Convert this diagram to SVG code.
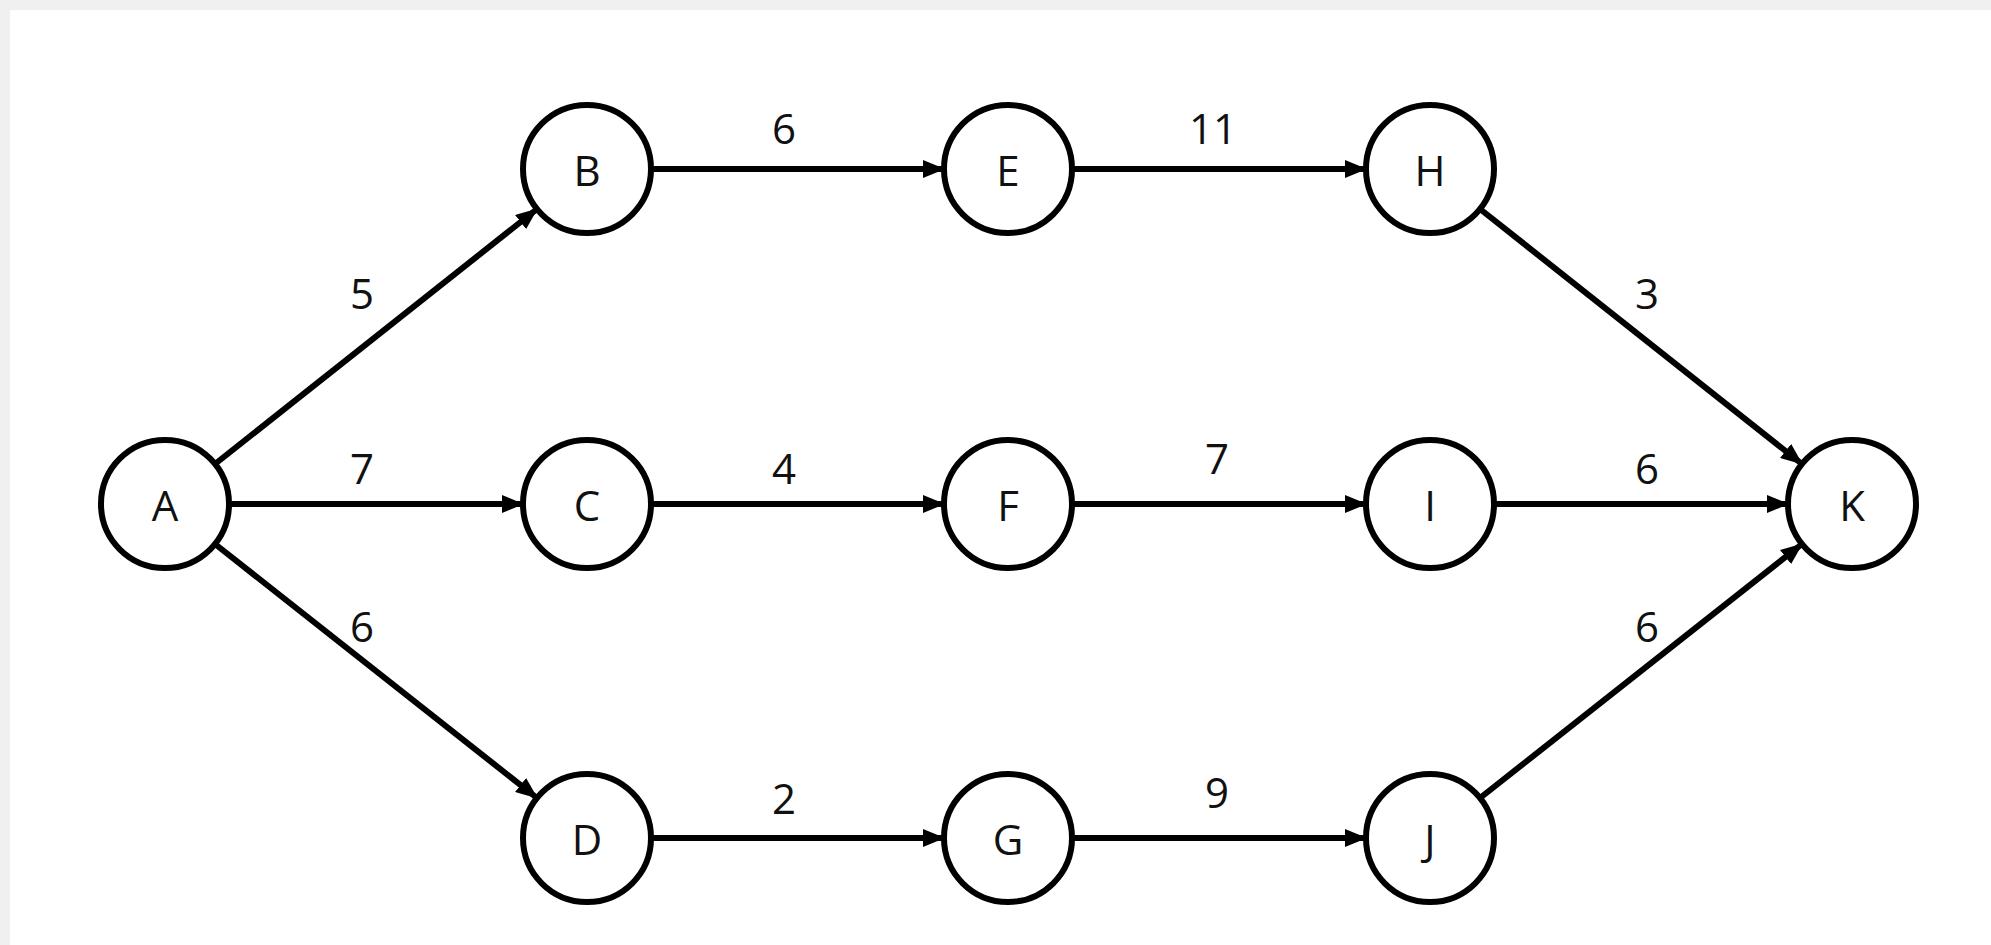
<svg xmlns="http://www.w3.org/2000/svg" width="1991" height="945" viewBox="0 0 1991 945">
<style>
.n circle{fill:#fff;stroke:#000;stroke-width:6}
text{font-family:"Open Sans","Liberation Sans",sans-serif;font-size:42px;fill:#111;text-anchor:middle;dominant-baseline:central}
.e line{stroke:#000;stroke-width:6}
</style>
<defs><marker id="ar" markerUnits="userSpaceOnUse" markerWidth="22" markerHeight="18" refX="21" refY="9" orient="auto"><path d="M0,0 L22,9 L0,18 z" fill="#000"/></marker></defs>
<rect width="1991" height="945" fill="#f0f0f0"/>
<rect x="10" y="10" width="1981" height="935" fill="#fff"/>
<g class="e" marker-end="url(#ar)">
<line x1="215" y1="464" x2="537" y2="209" marker-end="url(#ar)"/>
<line x1="229" y1="504" x2="523" y2="504" marker-end="url(#ar)"/>
<line x1="215" y1="544" x2="537" y2="798" marker-end="url(#ar)"/>
<line x1="651" y1="169" x2="944" y2="169" marker-end="url(#ar)"/>
<line x1="1072" y1="169" x2="1366" y2="169" marker-end="url(#ar)"/>
<line x1="651" y1="504" x2="944" y2="504" marker-end="url(#ar)"/>
<line x1="1072" y1="504" x2="1366" y2="504" marker-end="url(#ar)"/>
<line x1="651" y1="838" x2="944" y2="838" marker-end="url(#ar)"/>
<line x1="1072" y1="838" x2="1366" y2="838" marker-end="url(#ar)"/>
<line x1="1480" y1="209" x2="1802" y2="464" marker-end="url(#ar)"/>
<line x1="1494" y1="504" x2="1788" y2="504" marker-end="url(#ar)"/>
<line x1="1480" y1="798" x2="1802" y2="544" marker-end="url(#ar)"/>
<text x="362" y="292">5</text><text x="362" y="467">7</text><text x="362" y="625">6</text>
<text x="784" y="127">6</text><text x="1213" y="127">11</text><text x="1647" y="292">3</text>
<text x="784" y="467">4</text><text x="1217" y="457">7</text><text x="1647" y="467">6</text>
<text x="784" y="797">2</text><text x="1217" y="791">9</text><text x="1647" y="625">6</text>
</g>
<g id="A" class="n"><circle cx="165" cy="504" r="64"/><text x="165" y="504">A</text></g>
<g id="B" class="n"><circle cx="587" cy="169" r="64"/><text x="587" y="169">B</text></g>
<g id="C" class="n"><circle cx="587" cy="504" r="64"/><text x="587" y="504">C</text></g>
<g id="D" class="n"><circle cx="587" cy="838" r="64"/><text x="587" y="838">D</text></g>
<g id="E" class="n"><circle cx="1008" cy="169" r="64"/><text x="1008" y="169">E</text></g>
<g id="F" class="n"><circle cx="1008" cy="504" r="64"/><text x="1008" y="504">F</text></g>
<g id="G" class="n"><circle cx="1008" cy="838" r="64"/><text x="1008" y="838">G</text></g>
<g id="H" class="n"><circle cx="1430" cy="169" r="64"/><text x="1430" y="169">H</text></g>
<g id="I" class="n"><circle cx="1430" cy="504" r="64"/><text x="1430" y="504">I</text></g>
<g id="J" class="n"><circle cx="1430" cy="838" r="64"/><text x="1430" y="838">J</text></g>
<g id="K" class="n"><circle cx="1852" cy="504" r="64"/><text x="1852" y="504">K</text></g>
</svg>
